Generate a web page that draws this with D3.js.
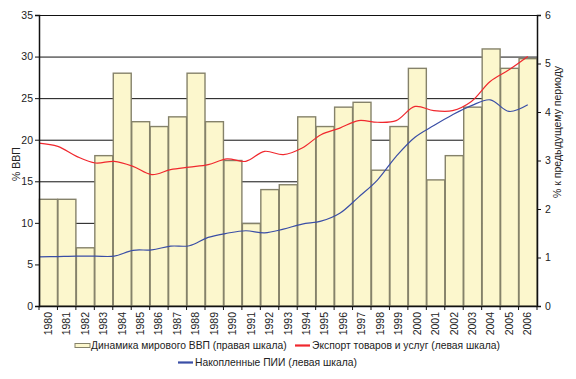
<!DOCTYPE html>
<html><head><meta charset="utf-8">
<script src="https://cdn.jsdelivr.net/npm/d3@7/dist/d3.min.js"></script>
<style>
html,body{margin:0;padding:0;background:#fff;}
svg{display:block;font-family:"Liberation Sans",Arial,sans-serif;}
</style></head>
<body>
<svg id="c" width="576" height="379"></svg>
<script>
const years = ["1980","1981","1982","1983","1984","1985","1986","1987","1988","1989","1990","1991","1992","1993","1994","1995","1996","1997","1998","1999","2000","2001","2002","2003","2004","2005","2006"];
// Динамика мирового ВВП, % к предыдущему периоду (правая шкала)
const gdpGrowth = [2.2,2.2,1.2,3.1,4.8,3.8,3.7,3.9,4.8,3.8,3.0,1.7,2.4,2.5,3.9,3.7,4.1,4.2,2.8,3.7,4.9,2.6,3.1,4.1,5.3,4.9,5.1];
// Экспорт товаров и услуг, % ВВП (левая шкала)
const exportShare = [19.6,19.2,18.0,17.2,17.4,16.8,15.8,16.4,16.7,17.0,17.7,17.4,18.6,18.2,19.0,20.6,21.4,22.3,22.1,22.3,24.0,23.5,23.5,24.6,27.0,28.4,30.0];
// Накопленные ПИИ, % ВВП (левая шкала)
const fdiStock = [5.9,5.95,6.0,6.0,6.0,6.7,6.75,7.2,7.25,8.25,8.75,9.05,8.8,9.25,9.85,10.2,11.15,13.1,15.15,18.0,20.3,21.7,23.0,24.1,24.8,23.4,24.2];
const leftTicks = [0,5,10,15,20,25,30,35];
const rightTicks = [0,1,2,3,4,5,6];
const leftTitle = "% ВВП";
const rightTitle = "% к предыдущему периоду";
const legendLabels = ["Динамика мирового ВВП (правая шкала)","Экспорт товаров и услуг (левая шкала)","Накопленные ПИИ (левая шкала)"];

const svg = d3.select("#c");
const X0 = 39, X1 = 537, Y0 = 306, Y1 = 15;
const FONT = 10.5;

const xBand = d3.scaleBand().domain(years).range([X0, X1]).padding(0);
const xPt = d3.scalePoint().domain(years).range([X0, xBand("2006") + xBand.bandwidth()/2]);
const yL = d3.scaleLinear().domain([0,35]).range([Y0, Y1]);
const yR = d3.scaleLinear().domain([0,6]).range([Y0, Y1]);

// gridlines
svg.append("g").selectAll("line").data(leftTicks.filter(d=>d>0)).join("line")
  .attr("x1", X0).attr("x2", X1)
  .attr("y1", d=>yL(d)+0.5).attr("y2", d=>yL(d)+0.5)
  .attr("stroke", "#111").attr("stroke-width", 1);

// bars
const bars = svg.append("g");
bars.selectAll("rect.b").data(years).join("rect")
  .attr("x", d=>xBand(d)+0.5)
  .attr("y", (d,i)=>yR(gdpGrowth[i]))
  .attr("width", xBand.bandwidth()-0.5)
  .attr("height", (d,i)=>Y0 - yR(gdpGrowth[i]))
  .attr("fill", "#fcf7cd")
  .attr("stroke", "#85826a").attr("stroke-width", 1.4);

// lines
const lineL = d3.line().x((d,i)=>xPt(years[i])).y(d=>yL(d)).curve(d3.curveCatmullRom.alpha(0.5));
svg.append("path").datum(exportShare).attr("d", lineL)
  .attr("fill","none").attr("stroke","#f0282e").attr("stroke-width",1.2);
svg.append("path").datum(fdiStock).attr("d", lineL)
  .attr("fill","none").attr("stroke","#3a4ea6").attr("stroke-width",1.2);

// left axis
const axL = svg.append("g").attr("transform",`translate(${X0},0)`)
  .call(d3.axisLeft(yL).tickValues(leftTicks).tickSize(4).tickPadding(2).tickFormat(d3.format("d")));
// right axis
const axR = svg.append("g").attr("transform",`translate(${X1},0)`)
  .call(d3.axisRight(yR).tickValues(rightTicks).tickSize(4).tickPadding(4).tickFormat(d3.format("d")));
// bottom axis with ticks at band boundaries
const axB = svg.append("g").attr("transform",`translate(0,${Y0})`);
axB.append("line").attr("x1",X0).attr("x2",X1).attr("y1",0.5).attr("y2",0.5).attr("stroke","#111").attr("stroke-width",1.5);
axB.selectAll("line.t").data(years.concat(["end"])).join("line").attr("class","t")
  .attr("x1",(d,i)=>X0 + i*xBand.bandwidth()).attr("x2",(d,i)=>X0 + i*xBand.bandwidth())
  .attr("y1",0).attr("y2",4).attr("stroke","#111");
axB.selectAll("text").data(years).join("text")
  .attr("transform", d=>`translate(${xBand(d)+xBand.bandwidth()/2+3.5},6) rotate(-90)`)
  .attr("text-anchor","end").attr("font-size",FONT).attr("fill","#222").text(d=>d);

[axL, axR].forEach(a=>{
  a.select(".domain").attr("stroke","#111").attr("stroke-width",1.5);
  a.selectAll(".tick line").attr("stroke","#111");
  a.selectAll("text").attr("font-size",FONT).attr("fill","#222").attr("font-family","Liberation Sans, Arial, sans-serif");
});

// axis titles
svg.append("text").attr("transform","translate(20,164) rotate(-90)")
  .attr("text-anchor","middle").attr("font-size",FONT).attr("fill","#222").text(leftTitle);
svg.append("text").attr("transform","translate(561,132) rotate(-90)")
  .attr("text-anchor","middle").attr("font-size",FONT).attr("fill","#222").text(rightTitle);

// legend
const lg = svg.append("g").attr("font-size",10.3).attr("fill","#222");
lg.append("rect").attr("x",75).attr("y",343.5).attr("width",15).attr("height",4)
  .attr("fill","#fcf7cd").attr("stroke","#85826a").attr("stroke-width",1);
lg.append("text").attr("x",91).attr("y",349).text(legendLabels[0]);
lg.append("line").attr("x1",295).attr("x2",310).attr("y1",345.5).attr("y2",345.5).attr("stroke","#f0282e").attr("stroke-width",2.2);
lg.append("text").attr("x",312).attr("y",349).text(legendLabels[1]);
lg.append("line").attr("x1",178).attr("x2",193).attr("y1",362.5).attr("y2",362.5).attr("stroke","#3a4ea6").attr("stroke-width",2.2);
lg.append("text").attr("x",195).attr("y",366).text(legendLabels[2]);
</script>
</body></html>
